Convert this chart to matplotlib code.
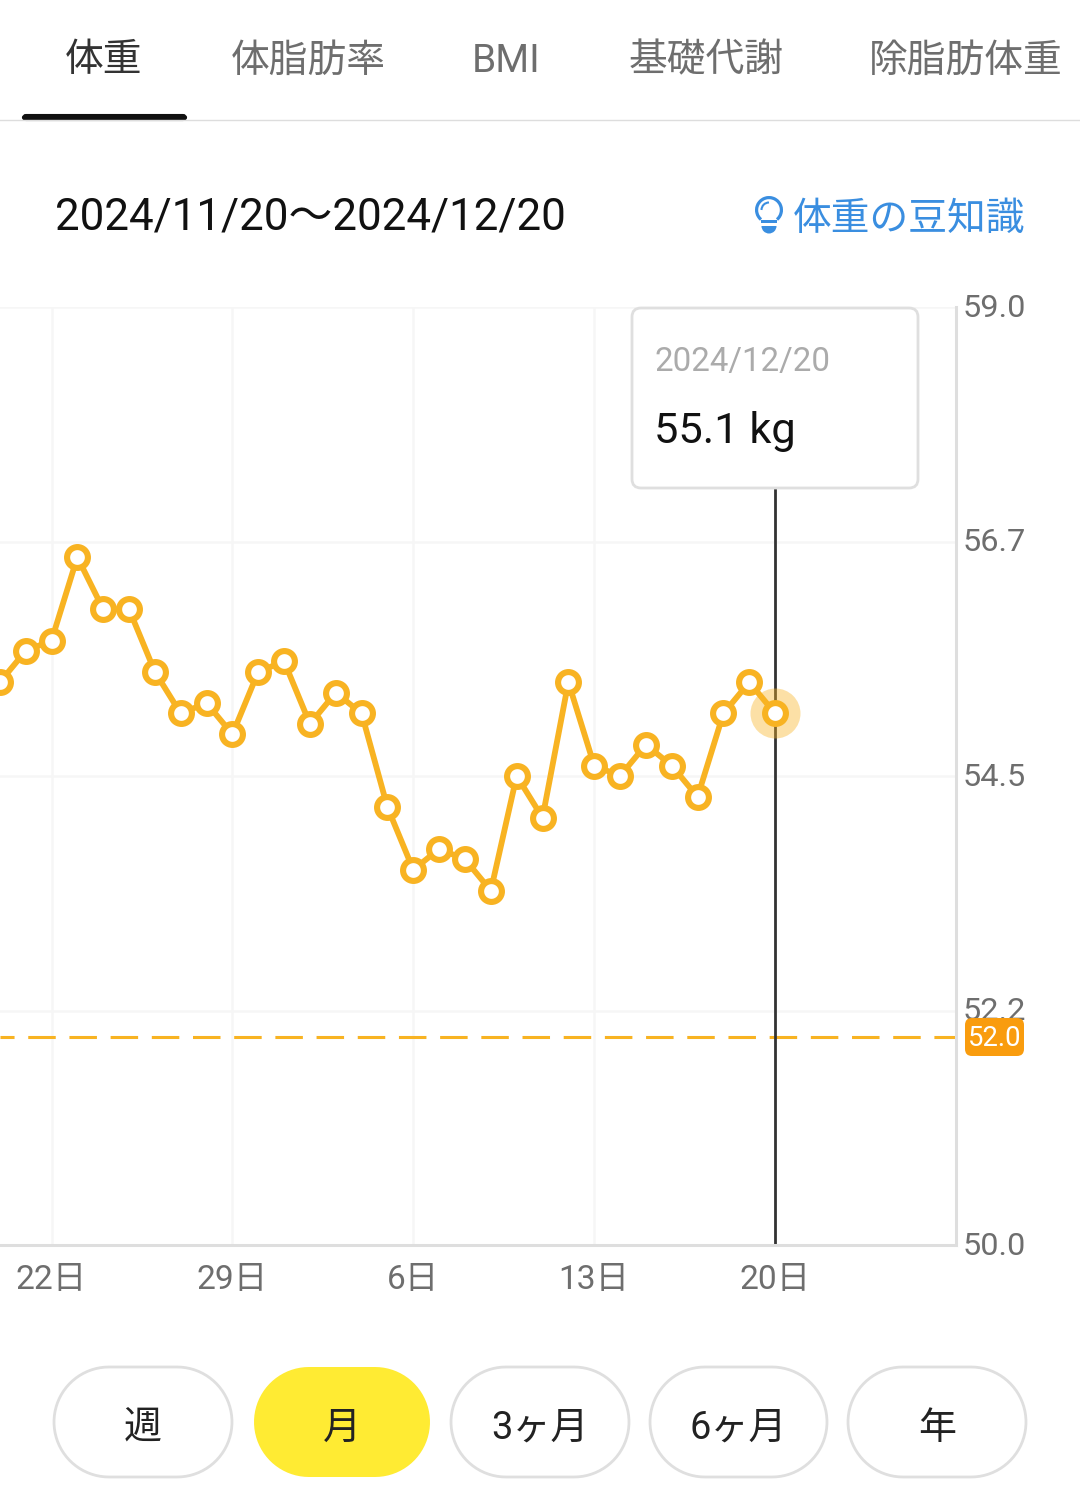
"""
Weight tracker screen: one month of daily weight with target line
"""
import matplotlib
matplotlib.use("Agg")
import numpy as np
import matplotlib.pyplot as plt
from matplotlib.patches import FancyBboxPatch, Wedge, Rectangle, Polygon, Arc
from matplotlib.transforms import ScaledTranslation

plt.rcParams['font.family'] = ['Roboto', 'Noto Sans CJK JP', 'DejaVu Sans']

# data (day 0 is 20 Nov)
days = list(range(31))
weight = [55.4, 55.7, 55.8, 56.6, 56.1, 56.1, 55.5, 55.1, 55.2, 54.9, 55.5,
          55.6, 55.0, 55.3, 55.1, 54.2, 53.6, 53.8, 53.7, 53.4, 54.5, 54.1,
          55.4, 54.6, 54.5, 54.8, 54.6, 54.3, 55.1, 55.4, 55.1]
target = 52.0
y_ticks = [50.0, 52.25, 54.5, 56.75, 59.0]
y_tick_labels = ["50.0", "52.2", "54.5", "56.7", "59.0"]
x_ticks = [2, 9, 16, 23, 30]
x_tick_labels = ["22日", "29日", "6日", "13日", "20日"]
tabs = ["体重", "体脂肪率", "BMI", "基礎代謝", "除脂肪体重"]
tab_centres = [104, 308, 506, 706, 966]
ranges = ["週", "月", "3ヶ月", "6ヶ月", "年"]
range_edges = [(54, 232), (254, 430), (451, 629), (650, 827), (848, 1026)]
date_range = "2024/11/20～2024/12/20"
tip_date = "2024/12/20"
tip_value = "55.1 kg"

ORANGE = "#F8B322"
BLUE = "#3A8EE0"
GREY = "#6E6E6E"
W, H = 1080, 1509
PX = 0.72  # font points per pixel at dpi 100


def pill_points(x0, x1, y0, y1):
    # outline of a stadium shape, in page pixels
    r = (y1 - y0) / 2
    t = np.linspace(-np.pi / 2, np.pi / 2, 40)
    right_end = np.column_stack([x1 - r + r * np.cos(t), y0 + r + r * np.sin(t)])
    left_end = np.column_stack([x0 + r - r * np.cos(t[::-1]), y0 + r + r * np.sin(t[::-1])])
    return np.vstack([right_end, left_end])


fig = plt.figure(figsize=(W / 100, H / 100), dpi=100, facecolor="white")

# whole-page overlay in pixel coordinates for the app chrome
page = fig.add_axes([0, 0, 1, 1], zorder=3)
page.set_xlim(0, W)
page.set_ylim(H, 0)
page.axis("off")
page.patch.set_alpha(0)

# chart axes
left, right, top, bottom = 0, 956, 307, 1245
ax = fig.add_axes([left / W, 1 - bottom / H, (right - left) / W, (bottom - top) / H], zorder=2)
ax.set_xlim(0.007, 37.0)
ax.set_ylim(50, 59)
for side in ["left", "top"]:
    ax.spines[side].set_visible(False)
for side in ["right", "bottom"]:
    ax.spines[side].set_color("#DEDEDE")
    ax.spines[side].set_linewidth(2.2)
ax.set_axisbelow(True)
ax.grid(True, color="#F6F6F6", lw=1.8)
ax.set_xticks(x_ticks)
ax.set_xticklabels(x_tick_labels)
ax.set_yticks(y_ticks)
ax.set_yticklabels(y_tick_labels)
ax.yaxis.tick_right()
ax.tick_params(axis="both", length=0, labelcolor=GREY)
ax.tick_params(axis="x", labelsize=33.5 * PX, pad=13.6)
ax.tick_params(axis="y", labelsize=32.5 * PX, pad=4.5)
nudge = ScaledTranslation(0, 2 / 100, fig.dpi_scale_trans)
for lab in ax.get_yticklabels():
    lab.set_transform(lab.get_transform() + nudge)

ax.plot([0.007, 37.0], [target, target], color=ORANGE, lw=2.2,
        linestyle=(4.4, (9, 4.48)), zorder=2)
ax.axvline(days[-1], ymax=0.807, color="#333333", lw=2.0, zorder=2)
ax.plot(days[-1], weight[-1], "o", ms=50 * PX, color=ORANGE, alpha=0.4, mec="none", zorder=3)
ax.plot(days, weight, color=ORANGE, lw=4.2, marker="o", ms=15, mfc="white",
        mec=ORANGE, mew=4.4, zorder=4)

# tabs
for label, cx, in zip(tabs, tab_centres):
    colour = "#333333" if label == tabs[0] else GREY
    page.text(cx, 61, label, ha="center", va="center", fontsize=38.8 * PX, color=colour)
page.plot([0, W], [120, 120], color="#DDDDDD", lw=1.0)
page.add_patch(FancyBboxPatch((23, 115), 163, 5, boxstyle="round,pad=0,rounding_size=3",
                              fc="#111111", ec="#111111", lw=1.5))

# header row
page.text(55, 218, date_range, ha="left", va="center", fontsize=43.85 * PX, color="#111111")
page.text(1025, 219, "体重の豆知識", ha="right", va="center", fontsize=38.7 * PX, color=BLUE)
page.add_patch(Wedge((769, 210), 14, 130, 410, width=3.2, fc=BLUE, ec="none"))
page.add_patch(Arc((769, 210), 15, 15, theta1=180, theta2=270, color=BLUE, lw=1.5))
page.add_patch(Rectangle((761, 220), 16, 3, fc=BLUE, ec="none"))
page.add_patch(Wedge((769, 226), 7.5, 0, 180, fc=BLUE, ec="none"))

# tooltip
page.add_patch(FancyBboxPatch((632, 308), 286, 180, boxstyle="round,pad=0,rounding_size=9",
                              fc="white", ec="#DFDFDF", lw=2))
page.text(655, 362, tip_date, ha="left", va="center", fontsize=33 * PX, color="#ABABAB")
page.text(654, 431, tip_value, ha="left", va="center", fontsize=43.5 * PX, color="#111111")

# target badge
page.add_patch(FancyBboxPatch((965, 1018), 59, 38, boxstyle="round,pad=0,rounding_size=7",
                              fc="#F99C0E", ec="none"))
page.text(994.5, 1039, "52.0", ha="center", va="center", fontsize=27.5 * PX, color="white")

# range buttons
for label, (x0, x1) in zip(ranges, range_edges):
    active = label == "月"
    page.add_patch(Polygon(pill_points(x0, x1, 1367, 1477), closed=True,
                           fc="#FFEB33" if active else "white",
                           ec="none" if active else "#DFDFDF", lw=2))
    page.text((x0 + x1) / 2, 1428, label, ha="center", va="center", fontsize=38 * PX, color="#222222")

fig.savefig("out.png", dpi=100)
